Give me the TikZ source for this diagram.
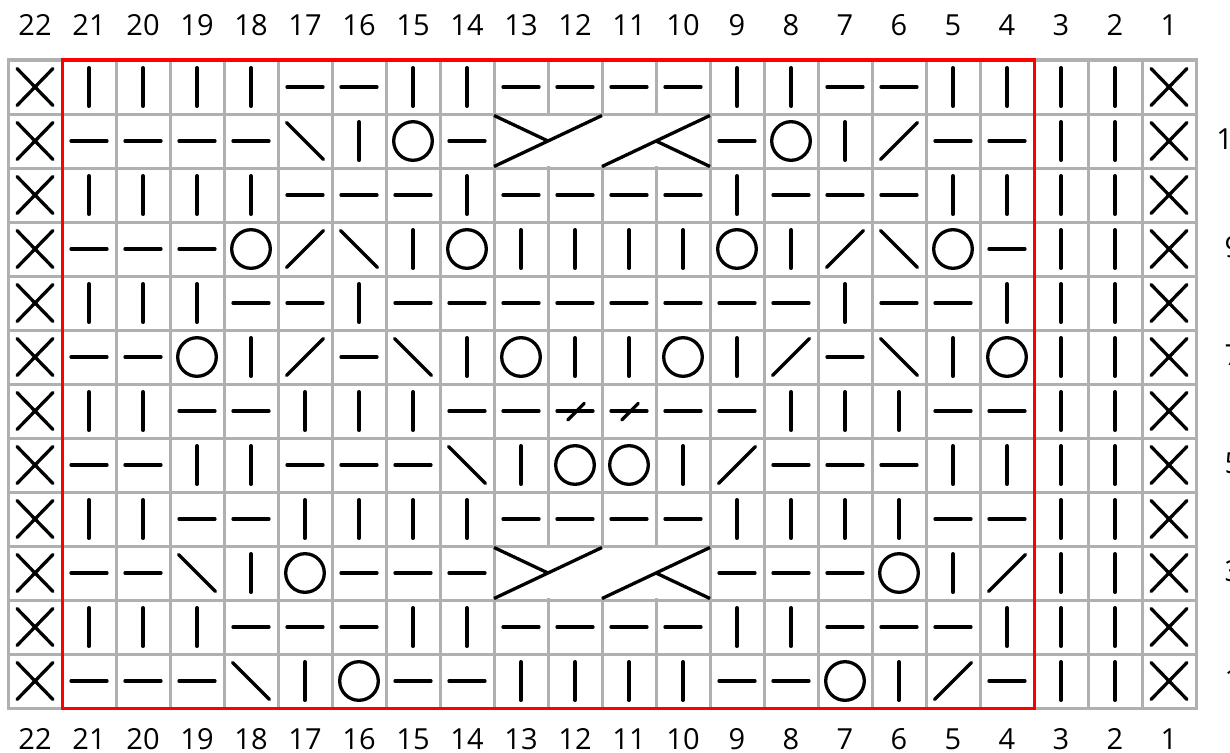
\documentclass[tikz,border=0pt]{standalone}
\usepackage{fontspec}
\setmainfont{Open Sans}
\definecolor{gridgray}{HTML}{B0B0B0}
\definecolor{chartred}{HTML}{FF0000}
\tikzset{
  sym/.style={line width=3.3pt, line cap=round, black},
  gridline/.style={line width=3pt, gridgray},
  redframe/.style={line width=3pt, chartred},
  numlabel/.style={inner sep=0pt, font=\fontsize{29}{34}\selectfont},
  pics/symK/.style={code={\draw[sym] (0,-19.3)--(0,19.3);}},
  pics/symP/.style={code={\draw[sym] (-18,0)--(18,0);}},
  pics/symO/.style={code={\draw[sym] (0,0) circle[radius=19.3];}},
  pics/symL/.style={code={\draw[sym] (-18.5,18.5)--(18.5,-18.5);}},
  pics/symR/.style={code={\draw[sym] (-18.5,-18.5)--(18.5,18.5);}},
  pics/symX/.style={code={\draw[sym] (-18,-18.5)--(18,18.5) (-18,18.5)--(18,-18.5);}},
  pics/symS/.style={code={\draw[sym] (-18,0)--(18,0); \draw[sym] (-7.3,9)--(9.3,-7.7);}},
  pics/symN/.style={code={}},
  pics/symC/.style={code={
    \fill[white] (-25.4,-25.4) rectangle (187.4,25.4);
    \draw[sym, line cap=butt] (-27,25.5)--(81,-25.5) (-27,-25.5)--(27,0)
      (81,25.5)--(189,-25.5) (189,25.5)--(135,0);}},
}
\begin{document}
\begin{tikzpicture}[x=1pt,y=-1pt]
\clip (0,0) rectangle (1230,752);
\fill[white] (0,0) rectangle (1230,752);
% grid
\foreach \i in {1,...,21} \draw[gridline] ({8+54*\i},60) -- ({8+54*\i},708);
\foreach \j in {1,...,11} \draw[gridline] (8,{60+54*\j}) -- (1196,{60+54*\j});
\draw[gridline] (8,60) rectangle (1196,708);
% symbols, rows 12 (top) to 1, columns 22 (left) to 1
\foreach \rowlist [count=\j from 0] in {
  {X,K,K,K,K,P,P,K,K,P,P,P,P,K,K,P,P,K,K,K,K,X},
  {X,P,P,P,P,R,K,O,P,C,N,N,N,P,O,K,L,P,P,K,K,X},
  {X,K,K,K,K,P,P,P,K,P,P,P,P,K,P,P,P,K,K,K,K,X},
  {X,P,P,P,O,L,R,K,O,K,K,K,K,O,K,L,R,O,P,K,K,X},
  {X,K,K,K,P,P,K,P,P,P,P,P,P,P,P,K,P,P,K,K,K,X},
  {X,P,P,O,K,L,P,R,K,O,K,K,O,K,L,P,R,K,O,K,K,X},
  {X,K,K,P,P,K,K,K,P,P,S,S,P,P,K,K,K,P,P,K,K,X},
  {X,P,P,K,K,P,P,P,R,K,O,O,K,L,P,P,P,K,K,K,K,X},
  {X,K,K,P,P,K,K,K,K,P,P,P,P,K,K,K,K,P,P,K,K,X},
  {X,P,P,R,K,O,P,P,P,C,N,N,N,P,P,P,O,K,L,K,K,X},
  {X,K,K,K,P,P,P,K,K,P,P,P,P,K,K,P,P,P,K,K,K,X},
  {X,P,P,P,R,K,O,P,P,K,K,K,K,P,P,O,K,L,P,K,K,X}} {
  \foreach \s [count=\i from 0] in \rowlist {
    \pic at ({35+54*\i},{87+54*\j}) {sym\s};
  }
}
% red repeat frame
\draw[redframe] (62,60) rectangle (1034,708);
% column numbers
\foreach \c [count=\i from 0] in {22,21,...,1} {
  \node[numlabel] (t\c) at ({35+54*\i},25.5) {\c};
  \node[numlabel] (b\c) at ({35+54*\i},739) {\c};
}
% row numbers (odd rows, right side)
\foreach \r in {1,3,5,7,9,11} {
  \node[numlabel] (r\r) at (1233,{85+54*(12-\r)}) {\r};
}
\end{tikzpicture}
\end{document}
